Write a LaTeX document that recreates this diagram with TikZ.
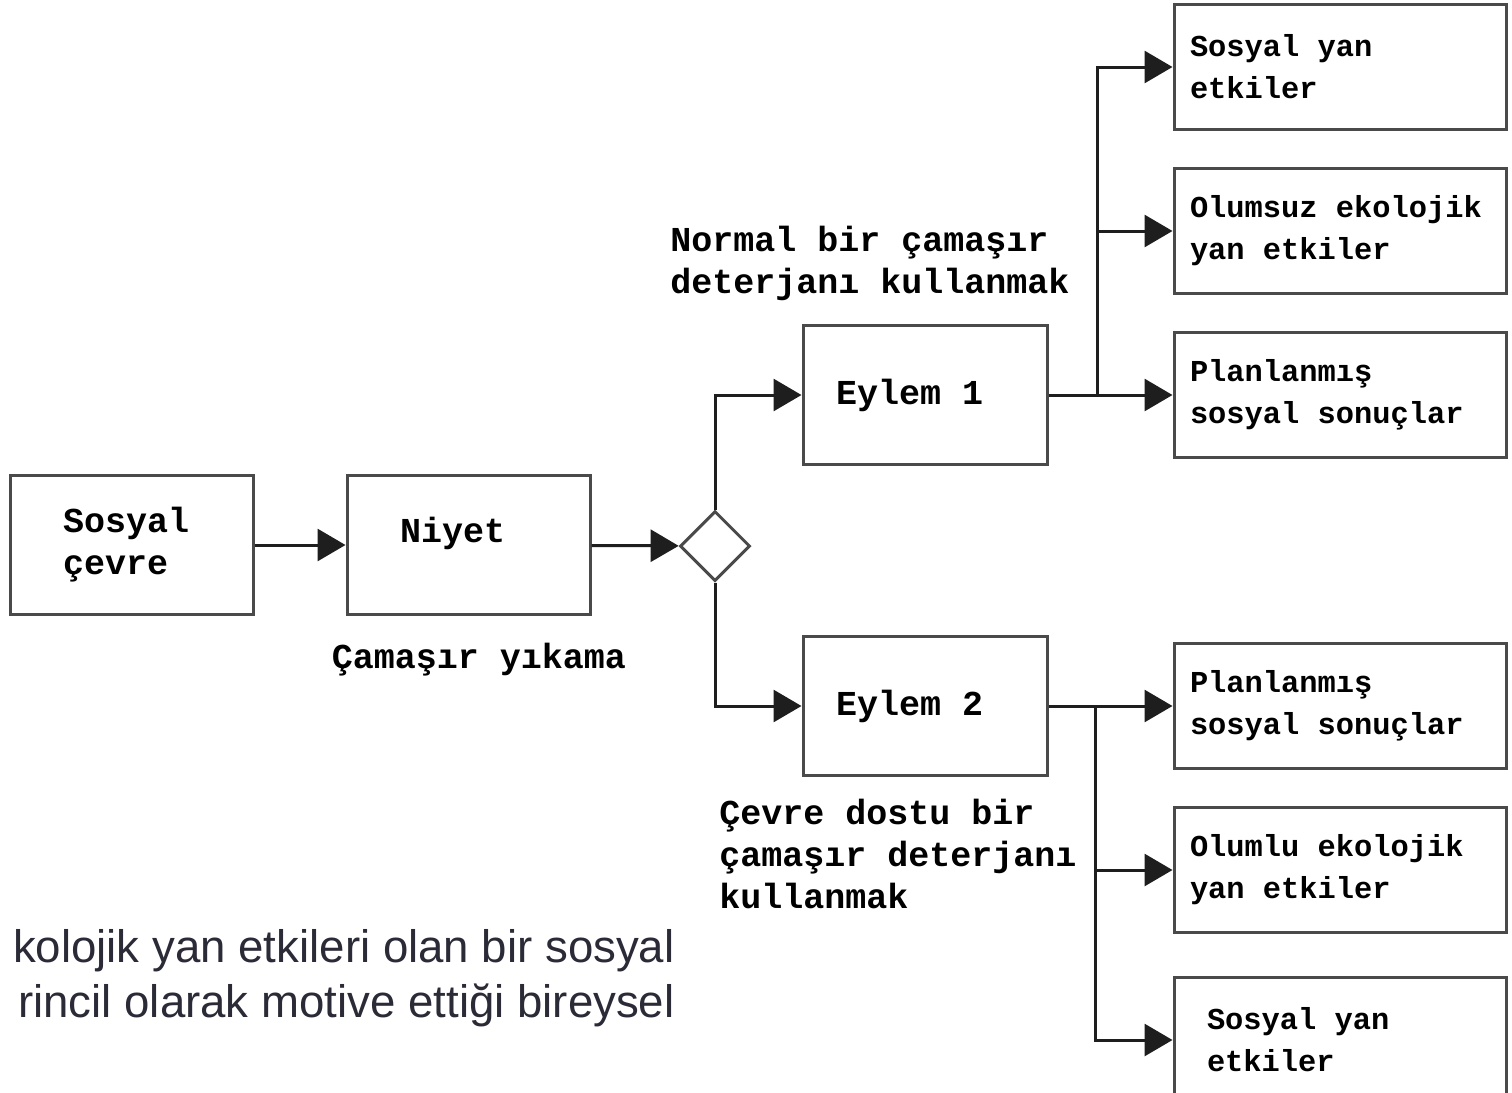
\documentclass[tikz,border=0pt]{standalone}
\usepackage{fontspec}
\setmainfont{Liberation Sans}
\newfontfamily\boxfont{Liberation Mono}
\usetikzlibrary{arrows.meta,shapes.geometric}
\definecolor{boxgray}{HTML}{4A4A4A}
\definecolor{linegray}{HTML}{1E1E1E}
\definecolor{captiongray}{HTML}{2B2B38}

\begin{document}
\begin{tikzpicture}[x=0.5pt, y=-0.5pt,
		big/.style={font=\boxfont\bfseries\fontsize{17.5}{21}\selectfont},
		small/.style={font=\boxfont\bfseries\fontsize{15.2}{21}\selectfont},
		leftbox/.style={draw=boxgray, line width=1.5pt, big, minimum width=121.5pt, minimum height=69.5pt, text width=68.5pt, inner xsep=26.5pt, align=left, execute at begin node={\spaceskip=0pt\relax}},
		actbox/.style={leftbox, text width=89pt, inner xsep=16.5pt},
		sidebox/.style={draw=boxgray, line width=1.5pt, small, minimum width=166pt, minimum height=62.5pt, text width=150pt, inner xsep=8pt, align=left, execute at begin node={\spaceskip=0pt\relax}},
		note/.style={big, align=left, inner sep=0pt},
		caption/.style={font=\fontsize{22.8}{27.5}\selectfont, text=captiongray, inner sep=0pt},
		arr/.style={draw=linegray, line width=1.5pt, -{Triangle[length=14pt,width=16pt]}}]
		\fill[white] (0,0) rectangle (1512,1093);
		\useasboundingbox (0,0) rectangle (1512,1093);

		% Left part
		\node[leftbox] (sosyal) at (131.5,545) {Sosyal\\çevre};
		\node[leftbox] (niyet) at (468.5,545) {Niyet\\[-6pt]\phantom{x}};
		\node[note, anchor=center] (yikama) at (479,660) {Çamaşır yıkama};
		\node[draw=boxgray, line width=1.5pt, diamond, minimum width=35pt, minimum height=35pt, inner sep=0pt] (gate) at (715,546) {};

		% Actions
		\node[actbox] (eylem1) at (925,395) {Eylem 1};
		\node[actbox] (eylem2) at (925,706) {Eylem 2};
		\node[note, anchor=west] (normal) at (670,263) {Normal bir çamaşır\\deterjanı kullanmak};
		\node[note, anchor=west] (dostu) at (719,854) {Çevre dostu bir\\çamaşır deterjanı\\kullanmak};

		% Outcomes of action 1
		\node[sidebox] (a1) at (1340,67) {Sosyal yan\\etkiler};
		\node[sidebox] (a2) at (1340,231) {Olumsuz ekolojik\\yan etkiler};
		\node[sidebox] (a3) at (1340,395) {Planlanmış\\sosyal sonuçlar};

		% Outcomes of action 2
		\node[sidebox] (b1) at (1340,706) {Planlanmış\\sosyal sonuçlar};
		\node[sidebox] (b2) at (1340,870) {Olumlu ekolojik\\yan etkiler};
		\node[sidebox, text width=133pt, inner xsep=16.5pt] (b3) at (1340,1040) {Sosyal yan\\etkiler};

		% Connectors
		\draw[arr] (sosyal) -- (niyet);
		\draw[arr] (niyet) -- (gate);
		\draw[arr] (gate.north) |- (eylem1);
		\draw[arr] (gate.south) |- (eylem2);

		\coordinate (fork1) at (1097,395);
		\draw[arr] (eylem1) -- (a3);
		\draw[arr] (fork1) |- (a1);
		\draw[arr] (fork1) |- (a2);

		\coordinate (fork2) at (1095,706);
		\draw[arr] (eylem2) -- (b1);
		\draw[arr] (fork2) |- (b2);
		\draw[arr] (fork2) |- (b3);

		% Caption
		\node[caption, anchor=base east] (cap1) at (675,962) {kolojik yan etkileri olan bir sosyal};
		\node[caption, anchor=base east] (cap2) at (675,1017) {rincil olarak motive ettiği bireysel};
	\end{tikzpicture}
\end{document}
